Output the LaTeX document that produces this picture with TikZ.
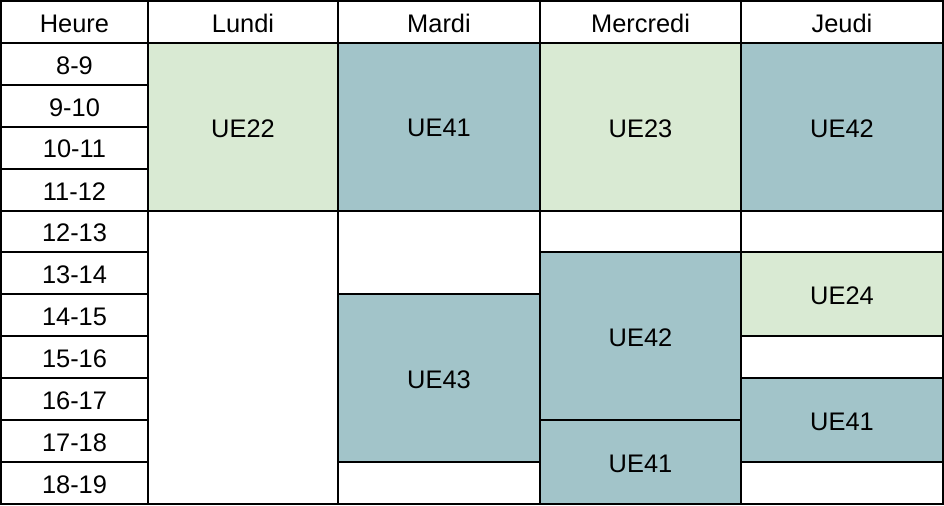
\documentclass[tikz,border=0pt]{standalone}
\usepackage{fontspec}
\setmainfont{Liberation Sans}
\definecolor{vert}{HTML}{D9EAD3}
\definecolor{bleu}{HTML}{A2C4C9}

\begin{document}
\begin{tikzpicture}[x=1bp,y=-1bp,line width=2bp,every node/.style={font=\fontsize{25.5}{30}\selectfont,yshift=-1.5bp}]
\useasboundingbox (0,0) rectangle (944,506);
\fill[white] (0,0) rectangle (944,506);

% en-tete
\foreach \xa/\xb/\t in {1/148/Heure, 148/338/Lundi, 338/540/Mardi, 540/741/Mercredi, 741/943/Jeudi}{
\draw (\xa,1) rectangle (\xb,43);
\node (\t) at ({(\xa+\xb)/2},22) {\t};}

% heures
\foreach \y [evaluate=\y as \h using int(\y+8), evaluate=\y as \hh using int(\y+9)] in {0,1,...,10}{
\draw (1,{43+41.9*\y}) rectangle (148,{43+41.9*(\y+1)});
\node (h\y) at (74.5,{43+41.9*(\y+0.5)}) {\h-\hh};}

% cours
\foreach \xa/\xb/\a/\b/\col/\t in {148/338/0/4/vert/UE22, 338/540/0/4/bleu/UE41, 540/741/0/4/vert/UE23, 741/943/0/4/bleu/UE42,
148/338/4/11/white/, 338/540/4/6/white/, 338/540/6/10/bleu/UE43, 338/540/10/11/white/,
540/741/4/5/white/, 540/741/5/9/bleu/UE42, 540/741/9/11/bleu/UE41,
741/943/4/5/white/, 741/943/5/7/vert/UE24, 741/943/7/8/white/, 741/943/8/10/bleu/UE41, 741/943/10/11/white/}{
\filldraw[fill=\col, draw=black] (\xa,{43+41.9*\a}) rectangle (\xb,{43+41.9*\b});
\node (c\xa-\a) at ({(\xa+\xb)/2},{43+41.9*(\a+\b)/2}) {\t};}
\end{tikzpicture}
\end{document}
